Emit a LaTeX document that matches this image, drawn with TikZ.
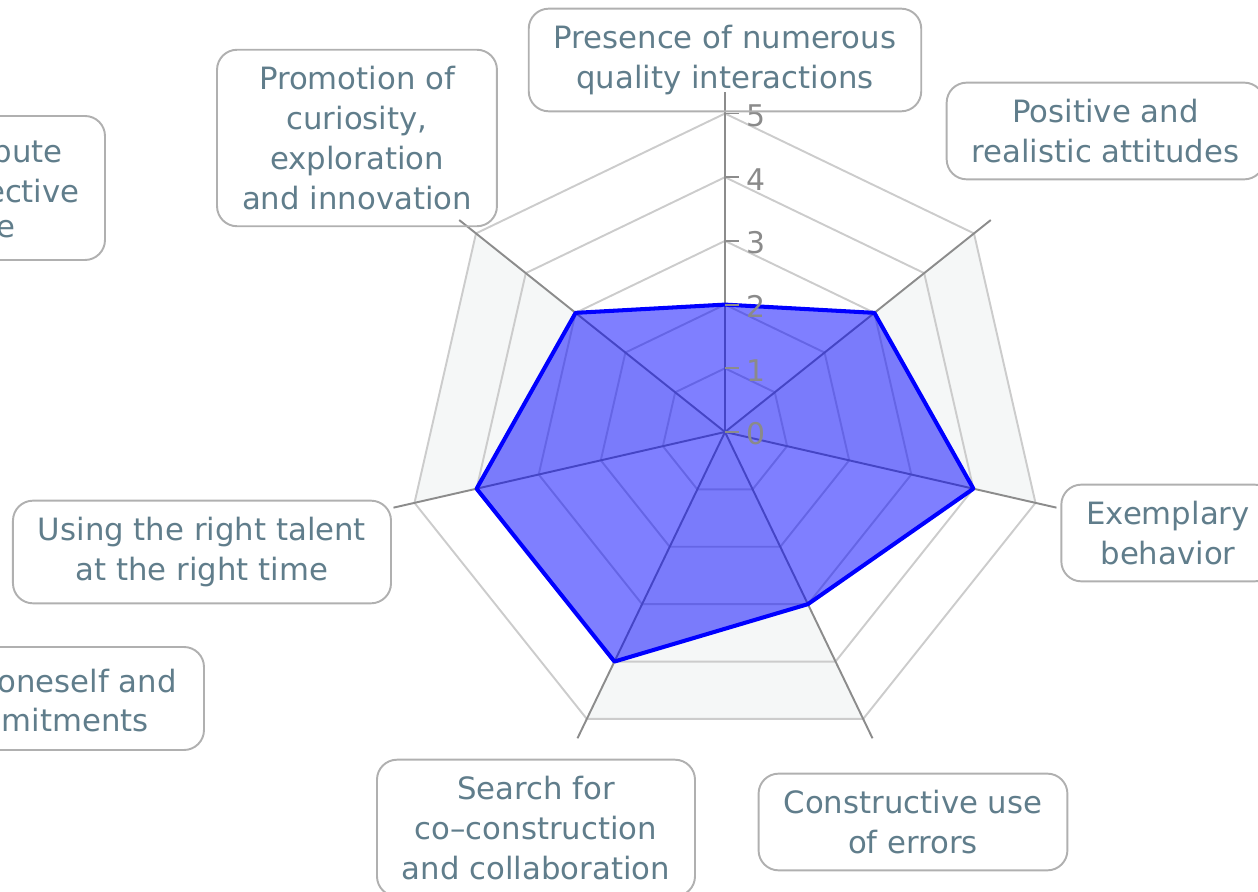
\documentclass[tikz,border=0pt]{standalone}
\usepackage{fontspec}
\setmainfont{DejaVu Sans}
\usepackage{tikz}
\usetikzlibrary{positioning,calc}
\definecolor{gridgray}{HTML}{CCCCCC}
\definecolor{axisgray}{HTML}{8C8C8C}
\definecolor{bandgray}{HTML}{F5F7F7}
\definecolor{boxgray}{HTML}{B0B0B0}
\definecolor{slate}{HTML}{607D8B}
\definecolor{tickgray}{HTML}{8A8A8A}
\definecolor{seriesblue}{HTML}{0000FF}

\tikzset{
  catlabel/.style={draw=boxgray,line width=1.1pt,rounded corners=0.4cm,text=slate,
    align=center,font=\fontsize{17.5}{22.7}\selectfont,inner xsep=0.5cm,inner ysep=0.33cm,
    execute at begin node={\rule{0pt}{16pt}}},
  cutlabel/.style={text=slate,font=\fontsize{17.5}{22.7}\selectfont,anchor=east,inner sep=0pt},
}

\begin{document}
\begin{tikzpicture}
  \useasboundingbox (-14.5,-9.2) rectangle (10.66,8.64);
  \def\u{1.274}
  \coordinate (ctr) at (0,0);

  % Shaded sectors (every second one)
  \foreach \k in {1,3,5}
    \fill[bandgray] (ctr) -- ({90-\k*360/7}:{5*\u}) -- ({90-(\k+1)*360/7}:{5*\u}) -- cycle;

  % Grid rings
  \foreach \r in {1,...,5}
    \draw[gridgray,line width=1.1pt] (90:\r*\u) foreach \k in {1,...,6} { -- ({90-\k*360/7}:{\r*\u}) } -- cycle;

  % Axes
  \foreach \k in {0,...,6} {
    \coordinate (end\k) at ({90-\k*360/7}:6.8);
    \draw[axisgray,line width=1.1pt] (ctr) -- (end\k);
  }

  % Series
  \draw[seriesblue,line width=2.3pt,line join=round,fill=seriesblue,fill opacity=0.5]
    (90:2*\u) foreach \v [count=\k] in {3,4,3,4,4,3} { -- ({90-\k*360/7}:{\v*\u}) } -- cycle;

  % Scale ticks and values
  \foreach \v in {0,...,5} {
    \draw[axisgray,line width=1.1pt] (0,\v*\u) -- ++(0.28,0);
    \node[anchor=west,text=tickgray,inner sep=0pt,font=\fontsize{17}{20}\selectfont] (val\v) at (0.42,\v*\u-0.04) {\v};
  }

  % Category labels
  \node[catlabel] (interactions) at (0,7.44) {Presence of numerous\\quality interactions};
  \node[catlabel] (attitudes) at (7.61,6.02) {Positive and\\realistic attitudes};
  \node[catlabel] (exemplary) at (8.86,-2.02) {Exemplary\\behavior};
  \node[catlabel] (errors) at (3.76,-7.8) {Constructive use\\of errors};
  \node[catlabel] (coconstruct) at (-3.78,-7.92) {Search for\\co–construction\\and collaboration};
  \node[catlabel] (talent) at (-10.46,-2.4) {Using the right talent\\at the right time};
  \node[catlabel] (curiosity) at (-7.36,5.88) {Promotion of\\curiosity,\\exploration\\and innovation};

  % Labels cut by the left edge
  \draw[boxgray,line width=1.1pt,rounded corners=0.4cm] (-17,6.32) rectangle (-12.4,3.44);
  \node[cutlabel] (cutA) at (-13.24,5.62) {bute};
  \node[cutlabel] (cutB) at (-12.9,4.82) {ective};
  \node[cutlabel] (cutC) at (-14.18,4.06) {e};
  \draw[boxgray,line width=1.1pt,rounded corners=0.4cm] (-17,-4.3) rectangle (-10.42,-6.36);
  \node[cutlabel] (cutD) at (-10.96,-4.98) {oneself and};
  \node[cutlabel] (cutE) at (-11.52,-5.76) {mitments};
\end{tikzpicture}
\end{document}
